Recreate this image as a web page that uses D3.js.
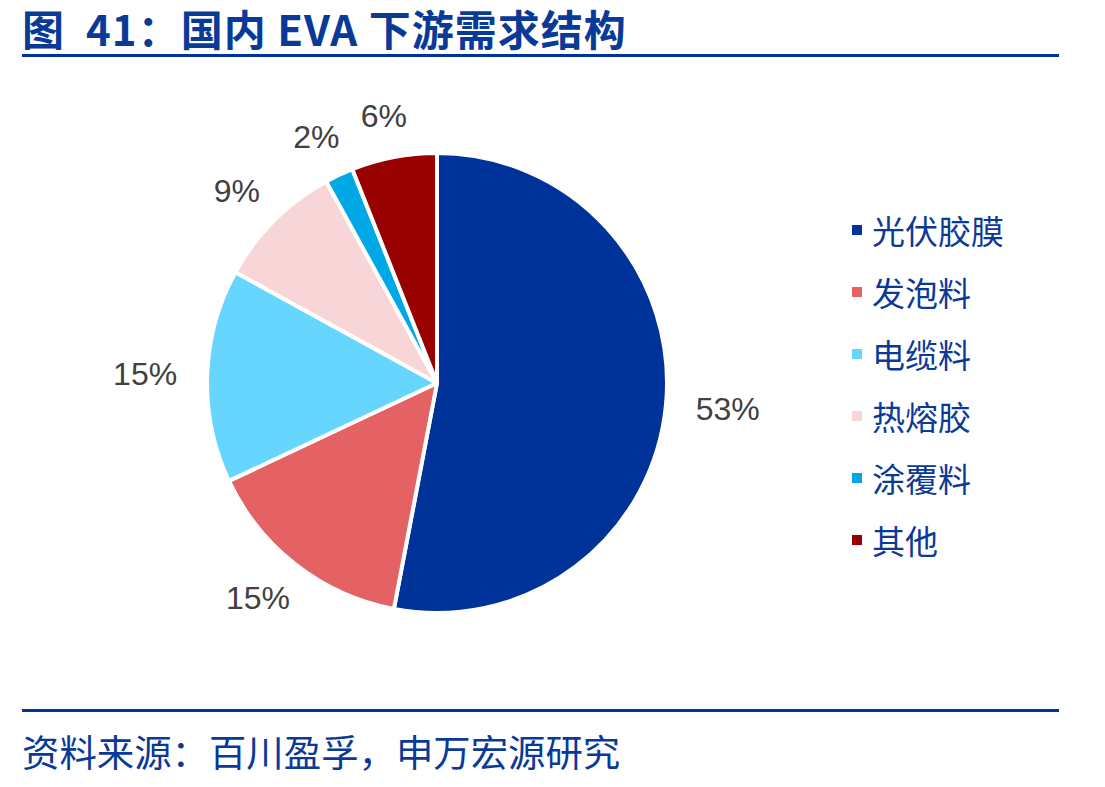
<!DOCTYPE html>
<html>
<head>
<meta charset="utf-8">
<script src="https://cdn.jsdelivr.net/npm/d3@7"></script>
<style>
  body { margin: 0; background: #fff; }
  svg { display: block; }
</style>
</head>
<body>
<svg id="drawing_region"></svg>
<script>
const categories = ['光伏胶膜', '发泡料', '电缆料', '热熔胶', '涂覆料', '其他'];
const values = [53, 15, 15, 9, 2, 6];
const colors = ['#003399', '#e46264', '#66d6ff', '#f8d5d6', '#00a9e6', '#990000'];

const title = '图  41：国内 EVA 下游需求结构';
const source = '资料来源：百川盈孚，申万宏源研究';

class PieChart {

    constructor(config, data) {
	this.config = {
	    parent: config.parent,
	    width: config.width || 1105,
	    height: config.height || 787,
	    cx: config.cx,
	    cy: config.cy,
	    radius: config.radius
	};
	this.data = data;
	this.init();
    }

    init() {
	let self = this;

	self.svg = d3.select(self.config.parent)
	    .attr('width', self.config.width)
	    .attr('height', self.config.height);

	self.color = d3.scaleOrdinal()
	    .domain(categories)
	    .range(colors);

	self.pie = d3.pie()
	    .sort(null)
	    .value(d => d.value);

	self.arc = d3.arc()
	    .innerRadius(0)
	    .outerRadius(self.config.radius);

	self.chart = self.svg.append('g')
	    .attr('transform', `translate(${self.config.cx}, ${self.config.cy})`);
    }

    render() {
	let self = this;
	const arcs = self.pie(self.data);
	const r = self.config.radius;

	// header
	self.svg.append('text')
	    .attr('x', 22)
	    .attr('y', 46)
	    .attr('fill', '#0a3a97')
	    .attr('font-family', '"Noto Sans CJK SC", "Liberation Sans", sans-serif')
	    .attr('font-weight', 'bold')
	    .attr('font-size', 42)
	    .attr('letter-spacing', 1)
	    .style('white-space', 'pre')
	    .text(title);

	self.svg.append('rect')
	    .attr('x', 22).attr('y', 54)
	    .attr('width', 1037).attr('height', 3)
	    .attr('fill', '#003399');

	// slices
	self.chart.selectAll('path')
	    .data(arcs)
	    .join('path')
	    .attr('d', self.arc)
	    .attr('fill', d => self.color(d.data.name))
	    .attr('stroke', '#fff')
	    .attr('stroke-width', 4)
	    .attr('stroke-linejoin', 'round');

	// percent labels, placed outside end (box edge a fixed gap from the rim)
	const gap = 30, half_h = 12;
	self.chart.selectAll('text.pct')
	    .data(arcs)
	    .join('text')
	    .attr('class', 'pct')
	    .attr('text-anchor', 'middle')
	    .attr('dominant-baseline', 'central')
	    .attr('font-family', '"Liberation Sans", Arial, sans-serif')
	    .attr('font-size', 32)
	    .attr('fill', '#404040')
	    .text(d => d.data.value + '%')
	    .attr('transform', function(d) {
		const a = (d.startAngle + d.endAngle) / 2;
		const s = Math.sin(a), c = -Math.cos(a);
		const w = this.getComputedTextLength() / 2;
		const x = (r + gap) * s + w * s;
		const y = (r + gap) * c + half_h * c;
		return `translate(${x}, ${y})`;
	    });

	// legend
	const legend = self.svg.append('g')
	    .attr('transform', 'translate(852, 230)');

	const item = legend.selectAll('g')
	    .data(categories)
	    .join('g')
	    .attr('transform', (d, i) => `translate(0, ${i * 62})`);

	item.append('rect')
	    .attr('x', 0).attr('y', -5)
	    .attr('width', 10).attr('height', 10)
	    .attr('fill', d => self.color(d));

	item.append('text')
	    .attr('x', 20)
	    .attr('y', 0)
	    .attr('dominant-baseline', 'central')
	    .attr('font-family', '"Noto Sans CJK SC", sans-serif')
	    .attr('font-size', 33)
	    .attr('fill', '#0a3a97')
	    .text(d => d);

	// footer
	self.svg.append('rect')
	    .attr('x', 22).attr('y', 709)
	    .attr('width', 1037).attr('height', 3)
	    .attr('fill', '#003399');

	self.svg.append('text')
	    .attr('x', 22)
	    .attr('y', 767)
	    .attr('fill', '#0a3a97')
	    .attr('font-family', '"Noto Sans CJK SC", sans-serif')
	    .attr('font-size', 37.4)
	    .text(source);
    }
}

const data = categories.map((c, i) => ({name: c, value: values[i]}));

const piechart = new PieChart({
    parent: '#drawing_region',
    width: 1105,
    height: 787,
    cx: 437,
    cy: 383,
    radius: 230
}, data);
piechart.render();
</script>
</body>
</html>
